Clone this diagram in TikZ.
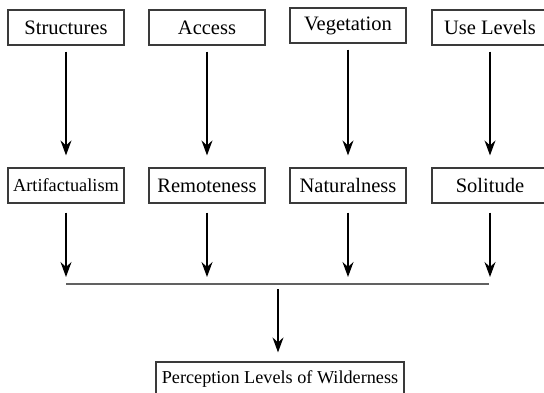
\documentclass[tikz,border=0pt]{standalone}
\usepackage{fontspec}
\setmainfont{Liberation Serif}
\usepackage{xcolor}
\definecolor{wldline}{HTML}{3A3A3A}
\usetikzlibrary{arrows.meta,positioning}

\begin{document}
\begin{tikzpicture}[x=1pt,y=1pt,
  factor/.style={draw=wldline,line width=1.2pt,minimum width=116pt,minimum height=35pt,inner sep=2pt,font=\fontsize{20.5}{24}\selectfont},
  flow/.style={-{Stealth[length=15pt,width=11pt,inset=5pt]},line width=1.3pt,draw=black}]
\useasboundingbox (0,0) rectangle (544,392);
% source factors
\node[factor] (str) at (66,364.5) {Structures};
\node[factor] (acc) at (207,364.5) {Access};
\node[factor] (veg) at (348,366.5) {Vegetation};
\node[factor] (use) at (490,364.5) {Use Levels};
% perceived qualities
\node[factor,font=\fontsize{18.3}{22}\selectfont] (art) at (66,206.5) {Artifactualism};
\node[factor] (rem) at (207,206.5) {Remoteness};
\node[factor] (nat) at (348,206.5) {Naturalness};
\node[factor] (sol) at (490,206.5) {Solitude};
% result
\node[factor,minimum width=248pt,font=\fontsize{18.2}{22}\selectfont] (plw) at (280,12.5) {Perception Levels of Wilderness};

\foreach \a/\b in {str/art,acc/rem,veg/nat,use/sol}
  \draw[flow,shorten <=6pt,shorten >=12pt] (\a) -- (\b);

% collecting line
\coordinate (bus1) at (66,108);
\coordinate (bus2) at (207,108);
\coordinate (bus3) at (348,108);
\coordinate (bus4) at (489,108);
\coordinate (busmid) at (278,108);
\foreach \a/\b in {art/bus1,rem/bus2,nat/bus3,sol/bus4}
  \draw[flow,shorten <=9pt,shorten >=7pt] (\a) -- (\a |- \b);
\draw[wldline!80,line width=1.4pt] (bus1) -- (bus4);
\draw[flow,shorten <=5pt,shorten >=9pt] (busmid) -- (busmid |- plw.north);
\end{tikzpicture}
\end{document}
